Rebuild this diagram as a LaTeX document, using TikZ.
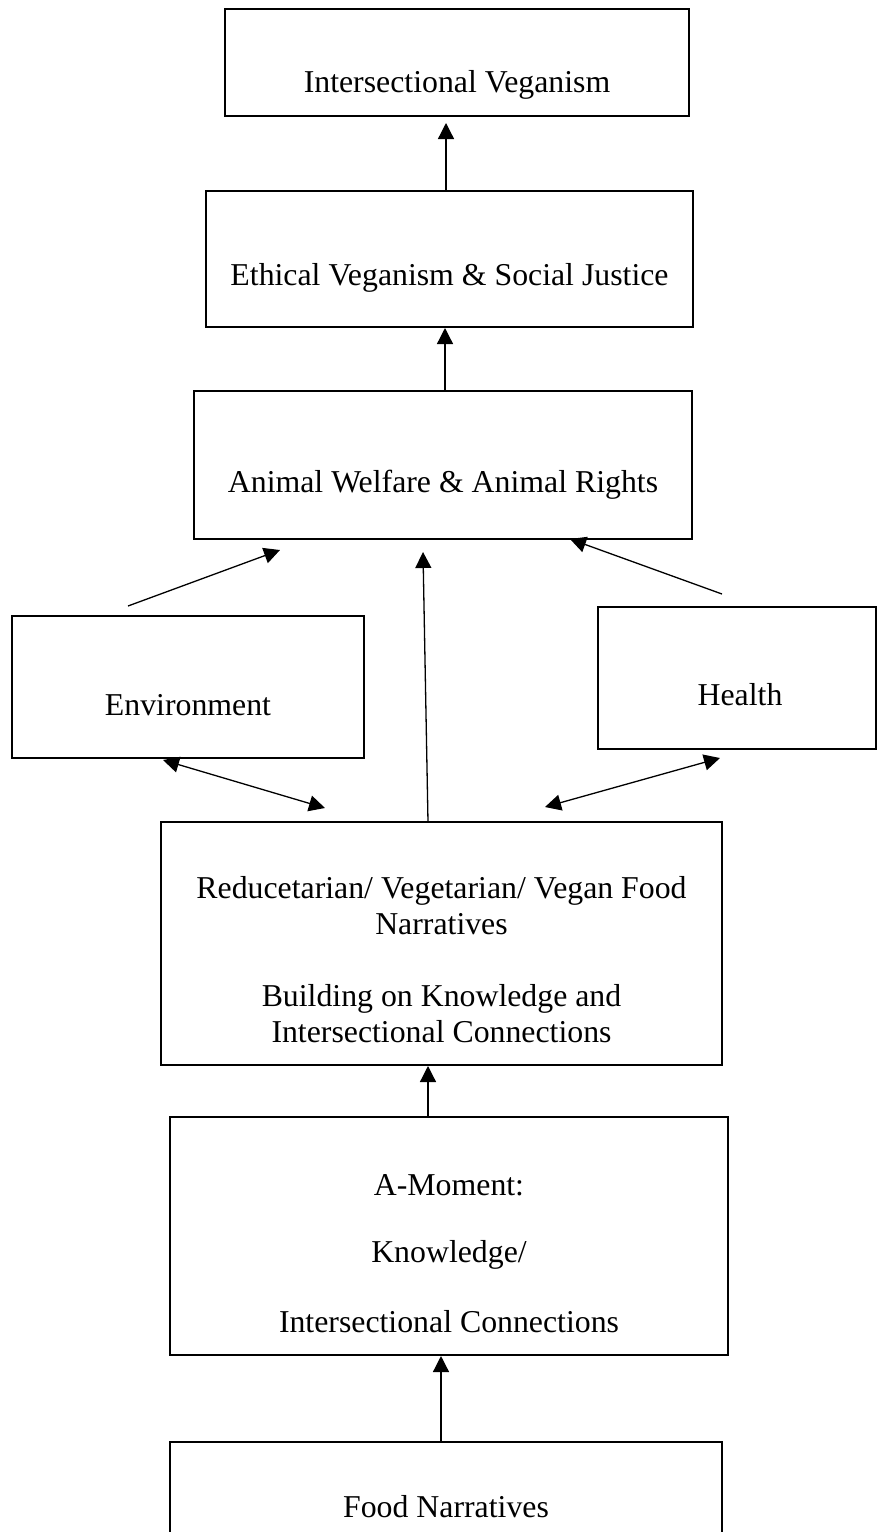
\documentclass[tikz,border=0pt]{standalone}
\usepackage{fontspec}
\setmainfont{Liberation Serif}
\usetikzlibrary{arrows.meta}
\tikzset{
  box/.style={draw=black, line width=2.2pt, inner sep=0pt, outer sep=0pt, fill=none},
  lbl/.style={anchor=base, inner sep=0pt, font=\fontsize{31.8}{36}\selectfont},
  arr/.style={line width=1.3pt, -{Triangle[length=16pt,width=16pt]}},
  darr/.style={line width=1.3pt, {Triangle[length=16pt,width=16pt]}-{Triangle[length=16pt,width=16pt]}}
}
\begin{document}
\begin{tikzpicture}[x=1pt,y=1pt]
\useasboundingbox (0,0) rectangle (877,-1532);
\clip (0,0) rectangle (877,-1532);
\fill[white] (0,0) rectangle (877,-1532);
% boxes
\node[box, minimum width=464pt, minimum height=107pt] (iv) at (457,-62.5) {};
\node[box, minimum width=487pt, minimum height=136pt] (eth) at (449.5,-259) {};
\node[box, minimum width=498pt, minimum height=148pt] (aw) at (443,-465) {};
\node[box, minimum width=352pt, minimum height=142pt] (env) at (188,-687) {};
\node[box, minimum width=278pt, minimum height=142pt] (hea) at (737,-678) {};
\node[box, minimum width=561pt, minimum height=243pt] (red) at (441.5,-943.5) {};
\node[box, minimum width=558pt, minimum height=238pt] (am) at (449,-1236) {};
\node[box, minimum width=552pt, minimum height=118pt] (food) at (446,-1501) {};
% texts
\node[lbl] (tiv) at (457,-92) {Intersectional Veganism};
\node[lbl] (teth) at (449.5,-285) {Ethical Veganism \& Social Justice};
\node[lbl] (taw) at (443,-492) {Animal Welfare \& Animal Rights};
\node[lbl] (tenv) at (188,-715) {Environment};
\node[lbl] (thea) at (740,-705) {Health};
\node[lbl] (tred1) at (441.5,-898) {Reducetarian/ Vegetarian/ Vegan Food};
\node[lbl] (tred2) at (441.5,-934) {Narratives};
\node[lbl] (tred3) at (441.5,-1006) {Building on Knowledge and};
\node[lbl] (tred4) at (441.5,-1042) {Intersectional Connections};
\node[lbl] (tam1) at (449,-1195) {A-Moment:};
\node[lbl] (tam2) at (449,-1262) {Knowledge/};
\node[lbl] (tam3) at (449,-1332) {Intersectional Connections};
\node[lbl] (tfood) at (446,-1517) {Food Narratives};
% connector end points
\coordinate (a1s) at (446,-191);  \coordinate (a1e) at (446,-123);
\coordinate (a2s) at (445,-391);  \coordinate (a2e) at (445,-328);
\coordinate (a3s) at (128,-606);  \coordinate (a3e) at (280,-550);
\coordinate (a4s) at (428,-822);  \coordinate (a4e) at (423,-552);
\coordinate (a5s) at (722,-594);  \coordinate (a5e) at (570,-539);
\coordinate (a6s) at (163,-760);  \coordinate (a6e) at (325,-808);
\coordinate (a7s) at (720,-758);  \coordinate (a7e) at (545,-807);
\coordinate (a8s) at (428,-1117); \coordinate (a8e) at (428,-1066);
\coordinate (a9s) at (441,-1441); \coordinate (a9e) at (441,-1356);
% connectors
\draw[arr] (a1s) -- (a1e);
\draw[arr] (a2s) -- (a2e);
\draw[arr] (a3s) -- (a3e);
\draw[arr] (a4s) -- (a4e);
\draw[arr] (a5s) -- (a5e);
\draw[darr] (a6s) -- (a6e);
\draw[darr] (a7s) -- (a7e);
\draw[arr] (a8s) -- (a8e);
\draw[arr] (a9s) -- (a9e);
\end{tikzpicture}
\end{document}
